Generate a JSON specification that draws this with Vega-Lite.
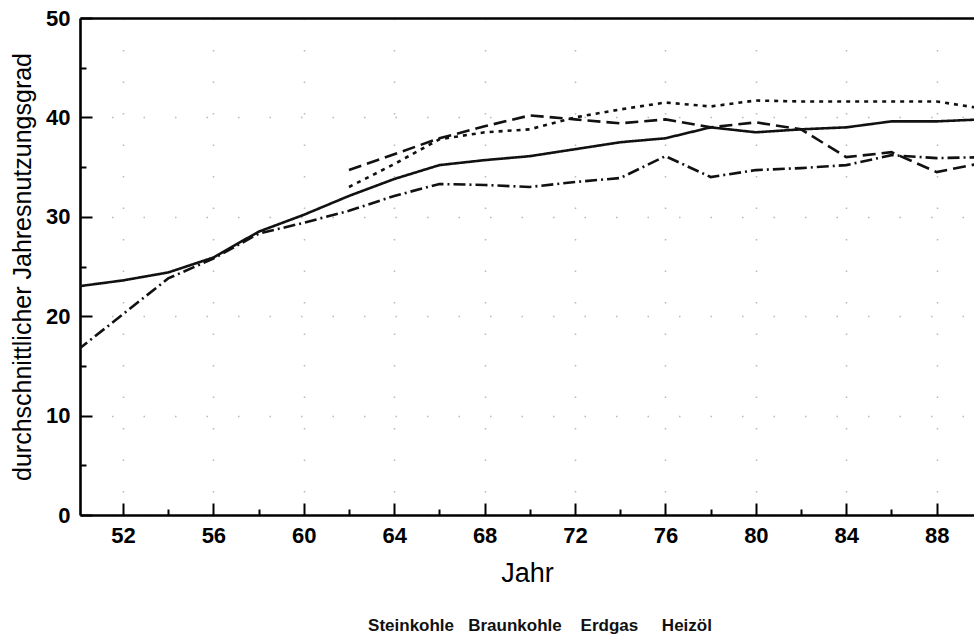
{
  "$schema": "https://vega.github.io/schema/vega-lite/v6.json",
  "width": 894,
  "height": 497,
  "autosize": {"type": "none"},
  "padding": {"left": 80, "top": 18, "right": 0, "bottom": 119},
  "background": "white",
  "config": {
    "view": {"stroke": null},
    "font": "Liberation Sans",
    "axis": {"domainColor": "black", "tickColor": "black", "labelColor": "black", "titleColor": "black"}
  },
  "title": {
    "text": "Steinkohle\u00a0\u00a0\u00a0Braunkohle\u00a0\u00a0\u00a0\u00a0Erdgas\u00a0\u00a0\u00a0\u00a0\u00a0Heizöl",
    "orient": "bottom",
    "anchor": "middle",
    "fontSize": 17,
    "fontWeight": "bold",
    "font": "Liberation Sans",
    "color": "#111",
    "dx": 13,
    "offset": 32
  },
  "data": {
    "values": [
      {"Jahr": 50, "Traeger": "Steinkohle", "Wert": 23.0},
      {"Jahr": 52, "Traeger": "Steinkohle", "Wert": 23.6},
      {"Jahr": 54, "Traeger": "Steinkohle", "Wert": 24.4},
      {"Jahr": 56, "Traeger": "Steinkohle", "Wert": 25.9},
      {"Jahr": 58, "Traeger": "Steinkohle", "Wert": 28.5},
      {"Jahr": 60, "Traeger": "Steinkohle", "Wert": 30.2},
      {"Jahr": 62, "Traeger": "Steinkohle", "Wert": 32.1},
      {"Jahr": 64, "Traeger": "Steinkohle", "Wert": 33.8},
      {"Jahr": 66, "Traeger": "Steinkohle", "Wert": 35.2},
      {"Jahr": 68, "Traeger": "Steinkohle", "Wert": 35.7},
      {"Jahr": 70, "Traeger": "Steinkohle", "Wert": 36.1},
      {"Jahr": 72, "Traeger": "Steinkohle", "Wert": 36.8},
      {"Jahr": 74, "Traeger": "Steinkohle", "Wert": 37.5},
      {"Jahr": 76, "Traeger": "Steinkohle", "Wert": 37.9},
      {"Jahr": 78, "Traeger": "Steinkohle", "Wert": 39.0},
      {"Jahr": 80, "Traeger": "Steinkohle", "Wert": 38.5},
      {"Jahr": 82, "Traeger": "Steinkohle", "Wert": 38.8},
      {"Jahr": 84, "Traeger": "Steinkohle", "Wert": 39.0},
      {"Jahr": 86, "Traeger": "Steinkohle", "Wert": 39.6},
      {"Jahr": 88, "Traeger": "Steinkohle", "Wert": 39.6},
      {"Jahr": 90, "Traeger": "Steinkohle", "Wert": 39.8},
      {"Jahr": 50, "Traeger": "Braunkohle", "Wert": 16.6},
      {"Jahr": 52, "Traeger": "Braunkohle", "Wert": 20.2},
      {"Jahr": 54, "Traeger": "Braunkohle", "Wert": 23.8},
      {"Jahr": 56, "Traeger": "Braunkohle", "Wert": 25.8},
      {"Jahr": 58, "Traeger": "Braunkohle", "Wert": 28.3},
      {"Jahr": 60, "Traeger": "Braunkohle", "Wert": 29.4},
      {"Jahr": 62, "Traeger": "Braunkohle", "Wert": 30.6},
      {"Jahr": 64, "Traeger": "Braunkohle", "Wert": 32.1},
      {"Jahr": 66, "Traeger": "Braunkohle", "Wert": 33.3},
      {"Jahr": 68, "Traeger": "Braunkohle", "Wert": 33.2},
      {"Jahr": 70, "Traeger": "Braunkohle", "Wert": 33.0},
      {"Jahr": 72, "Traeger": "Braunkohle", "Wert": 33.5},
      {"Jahr": 74, "Traeger": "Braunkohle", "Wert": 33.9},
      {"Jahr": 76, "Traeger": "Braunkohle", "Wert": 36.1},
      {"Jahr": 78, "Traeger": "Braunkohle", "Wert": 34.0},
      {"Jahr": 80, "Traeger": "Braunkohle", "Wert": 34.7},
      {"Jahr": 82, "Traeger": "Braunkohle", "Wert": 34.9},
      {"Jahr": 84, "Traeger": "Braunkohle", "Wert": 35.2},
      {"Jahr": 86, "Traeger": "Braunkohle", "Wert": 36.2},
      {"Jahr": 88, "Traeger": "Braunkohle", "Wert": 35.9},
      {"Jahr": 90, "Traeger": "Braunkohle", "Wert": 36.0},
      {"Jahr": 62, "Traeger": "Erdgas", "Wert": 33.0},
      {"Jahr": 64, "Traeger": "Erdgas", "Wert": 35.3},
      {"Jahr": 66, "Traeger": "Erdgas", "Wert": 37.8},
      {"Jahr": 68, "Traeger": "Erdgas", "Wert": 38.5},
      {"Jahr": 70, "Traeger": "Erdgas", "Wert": 38.8},
      {"Jahr": 72, "Traeger": "Erdgas", "Wert": 40.0},
      {"Jahr": 74, "Traeger": "Erdgas", "Wert": 40.8},
      {"Jahr": 76, "Traeger": "Erdgas", "Wert": 41.5},
      {"Jahr": 78, "Traeger": "Erdgas", "Wert": 41.1},
      {"Jahr": 80, "Traeger": "Erdgas", "Wert": 41.7},
      {"Jahr": 82, "Traeger": "Erdgas", "Wert": 41.6},
      {"Jahr": 84, "Traeger": "Erdgas", "Wert": 41.6},
      {"Jahr": 86, "Traeger": "Erdgas", "Wert": 41.6},
      {"Jahr": 88, "Traeger": "Erdgas", "Wert": 41.6},
      {"Jahr": 90, "Traeger": "Erdgas", "Wert": 40.9},
      {"Jahr": 62, "Traeger": "Heizöl", "Wert": 34.7},
      {"Jahr": 64, "Traeger": "Heizöl", "Wert": 36.3},
      {"Jahr": 66, "Traeger": "Heizöl", "Wert": 37.9},
      {"Jahr": 68, "Traeger": "Heizöl", "Wert": 39.1},
      {"Jahr": 70, "Traeger": "Heizöl", "Wert": 40.2},
      {"Jahr": 72, "Traeger": "Heizöl", "Wert": 39.8},
      {"Jahr": 74, "Traeger": "Heizöl", "Wert": 39.4},
      {"Jahr": 76, "Traeger": "Heizöl", "Wert": 39.8},
      {"Jahr": 78, "Traeger": "Heizöl", "Wert": 39.0},
      {"Jahr": 80, "Traeger": "Heizöl", "Wert": 39.5},
      {"Jahr": 82, "Traeger": "Heizöl", "Wert": 38.8},
      {"Jahr": 84, "Traeger": "Heizöl", "Wert": 36.0},
      {"Jahr": 86, "Traeger": "Heizöl", "Wert": 36.5},
      {"Jahr": 88, "Traeger": "Heizöl", "Wert": 34.5},
      {"Jahr": 90, "Traeger": "Heizöl", "Wert": 35.4}
    ]
  },
  "resolve": {"axis": {"x": "independent", "y": "independent"}},
  "layer": [
    {
      "mark": {"type": "line", "color": "#111", "strokeWidth": 2.6, "clip": true, "strokeCap": "butt"},
      "encoding": {
        "x": {
          "field": "Jahr", "type": "quantitative",
          "scale": {"domain": [50.1, 89.65], "nice": false, "zero": false},
          "axis": {
            "orient": "bottom", "title": "Jahr", "values": [52, 56, 60, 64, 68, 72, 76, 80, 84, 88],
            "tickSize": -12, "tickWidth": 2, "domainWidth": 2.6,
            "labelFontSize": 22, "labelFontWeight": "bold", "labelPadding": 22,
            "titleFontSize": 27, "titleFontWeight": "normal", "titlePadding": 14,
            "grid": true, "gridColor": "#888", "gridDash": [1.5, 30], "gridWidth": 1.5, "gridOpacity": 0.6
          }
        },
        "y": {
          "field": "Wert", "type": "quantitative",
          "scale": {"domain": [0, 50], "nice": false},
          "axis": {
            "orient": "left", "title": "durchschnittlicher Jahresnutzungsgrad", "values": [0, 10, 20, 30, 40, 50],
            "tickSize": -12, "tickWidth": 2, "domainWidth": 2.6,
            "labelFontSize": 22, "labelFontWeight": "bold", "labelPadding": 22,
            "titleFontSize": 25, "titleFontWeight": "normal", "titlePadding": 10,
            "grid": true, "gridColor": "#888", "gridDash": [1.5, 30], "gridWidth": 1.5, "gridOpacity": 0.6
          }
        },
        "strokeDash": {
          "field": "Traeger", "type": "nominal",
          "scale": {"domain": ["Steinkohle", "Braunkohle", "Erdgas", "Heizöl"], "range": [[1, 0], [12, 4, 2, 4], [4, 5], [13, 6]]},
          "legend": null
        }
      }
    },
    {
      "mark": {"type": "point", "opacity": 0},
      "encoding": {
        "x": {
          "field": "Jahr", "type": "quantitative",
          "axis": {"orient": "bottom", "values": [54, 58, 62, 66, 70, 74, 78, 82, 86], "tickSize": -6, "tickWidth": 2, "labels": false, "domain": false, "grid": false, "title": null}
        },
        "y": {
          "field": "Wert", "type": "quantitative",
          "axis": {"orient": "left", "values": [5, 15, 25, 35, 45], "tickSize": -6, "tickWidth": 2, "labels": false, "domain": false, "grid": false, "title": null}
        }
      }
    },
    {
      "mark": {"type": "point", "opacity": 0},
      "encoding": {
        "x": {
          "field": "Jahr", "type": "quantitative",
          "axis": {"orient": "top", "ticks": false, "labels": false, "domain": true, "domainWidth": 2.6, "domainColor": "black", "grid": false, "title": null}
        },
        "y": {"field": "Wert", "type": "quantitative", "axis": null}
      }
    }
  ]
}
